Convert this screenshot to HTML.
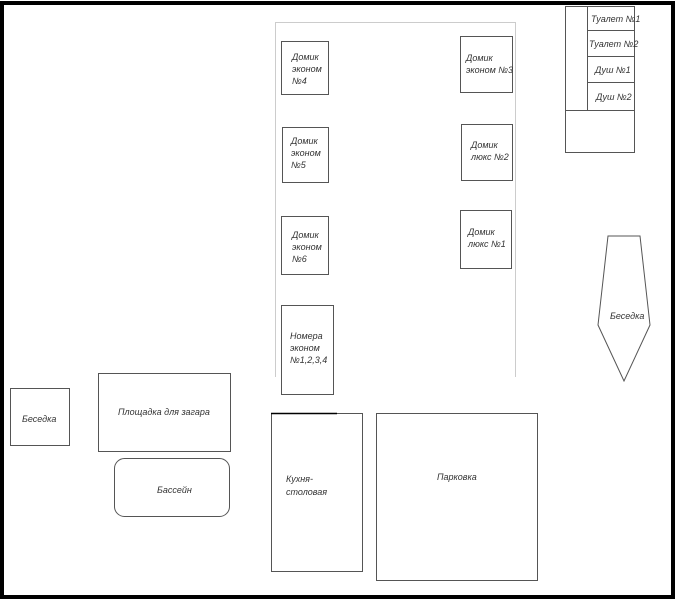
<!DOCTYPE html>
<html><head><meta charset="utf-8"><style>html,body{margin:0;padding:0;background:#fff}svg{display:block}</style></head>
<body>
<svg width="677" height="600" xmlns="http://www.w3.org/2000/svg" font-family="'Liberation Sans',sans-serif" font-style="italic" font-size="9" fill="#333">
<rect x="2" y="3" width="671" height="594" fill="none" stroke="#000" stroke-width="4"/>
<path d="M275.5 377 V22.5 H515.5 V377" fill="none" stroke="#ccc" stroke-width="1"/>
<g fill="#fff" stroke="#555" stroke-width="1">
<rect x="281.5" y="41.5" width="47" height="53"/>
<rect x="460.5" y="36.5" width="52" height="56"/>
<rect x="282.5" y="127.5" width="46" height="55"/>
<rect x="461.5" y="124.5" width="51" height="56"/>
<rect x="281.5" y="216.5" width="47" height="58"/>
<rect x="460.5" y="210.5" width="51" height="58"/>
<rect x="281.5" y="305.5" width="52" height="89"/>
<rect x="271.5" y="413.5" width="91" height="158"/>
<rect x="376.5" y="413.5" width="161" height="167"/>
<rect x="10.5" y="388.5" width="59" height="57"/>
<rect x="98.5" y="373.5" width="132" height="78"/>
<rect x="114.5" y="458.5" width="115" height="58" rx="10"/>
<rect x="565.5" y="6.5" width="69" height="146"/>
<rect x="587.5" y="6.5" width="47" height="104"/>
<line x1="587" y1="30.5" x2="634" y2="30.5"/>
<line x1="587" y1="56.5" x2="634" y2="56.5"/>
<line x1="587" y1="82.5" x2="634" y2="82.5"/>
<line x1="565" y1="110.5" x2="634" y2="110.5"/>
<polygon points="608,236 640,236 650,325 624,381 598,325"/>
</g>
<line x1="271" y1="413.5" x2="337" y2="413.5" stroke="#000" stroke-width="1.5"/>
<text x="292" y="60">Домик</text><text x="292" y="72">эконом</text><text x="292" y="84">№4</text>
<text x="466" y="61">Домик</text><text x="466" y="73">эконом №3</text>
<text x="291" y="144">Домик</text><text x="291" y="156">эконом</text><text x="291" y="168">№5</text>
<text x="471" y="148">Домик</text><text x="471" y="160">люкс №2</text>
<text x="292" y="238">Домик</text><text x="292" y="250">эконом</text><text x="292" y="262">№6</text>
<text x="468" y="235">Домик</text><text x="468" y="247">люкс №1</text>
<text x="290" y="339">Номера</text><text x="290" y="351">эконом</text><text x="290" y="363">№1,2,3,4</text>
<text x="286" y="482">Кухня-</text><text x="286" y="495">столовая</text>
<text x="437" y="480">Парковка</text>
<text x="22" y="422">Беседка</text>
<text x="118" y="415">Площадка для загара</text>
<text x="157" y="493">Бассейн</text>
<text x="610" y="319">Беседка</text>
<text x="591" y="22">Туалет №1</text>
<text x="589" y="47">Туалет №2</text>
<text x="595" y="73">Душ №1</text>
<text x="596" y="100">Душ №2</text>
</svg>
</body></html>
